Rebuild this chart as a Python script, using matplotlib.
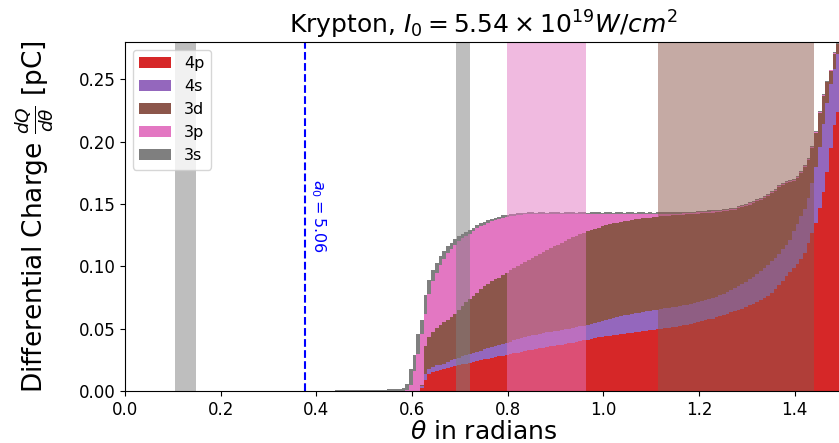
#!/usr/bin/env python3
"""
Angular distribution of ejected charge for krypton, split by shell (stacked histogram).
"""
import numpy as np
import matplotlib
matplotlib.use("Agg")
import matplotlib.pyplot as plt

OUTPUT_FILE = "out.png"

# histogram binning (radians)
THETA_MIN = 0.44
BIN_WIDTH = 0.0077

shell_labels = ["4p", "4s", "3d", "3p", "3s"]
shell_colors = ["tab:red", "tab:purple", "tab:brown", "tab:pink", "tab:gray"]

# charge per bin [pC]
q_4p = [0.0] * 23 + [
    0.002, 0.009, 0.0135, 0.015, 0.016, 0.017, 0.0177, 0.0185, 0.0192, 0.0199,
    0.0206, 0.0213, 0.022, 0.0227, 0.0234, 0.0241, 0.0248, 0.0254, 0.026, 0.0266,
    0.0272, 0.0278, 0.0284, 0.029, 0.0296, 0.0302, 0.0308, 0.0314, 0.032, 0.0327,
    0.0332, 0.0337, 0.0342, 0.0347, 0.0352, 0.0357, 0.0362, 0.0367, 0.0372, 0.0377,
    0.0382, 0.0388, 0.0394, 0.040, 0.0406, 0.0412, 0.0418, 0.0424, 0.043, 0.0434,
    0.0439, 0.0443, 0.0447, 0.0451, 0.0455, 0.0459, 0.0463, 0.0467, 0.0471, 0.0475,
    0.0479, 0.0483, 0.0487, 0.0491, 0.0495, 0.0499, 0.0503, 0.0507, 0.0511, 0.0515,
    0.052, 0.0526, 0.0532, 0.0538, 0.0545, 0.0552, 0.056, 0.0566, 0.0574, 0.058,
    0.059, 0.0598, 0.0606, 0.0618, 0.063, 0.064, 0.065, 0.066, 0.0675, 0.069,
    0.070, 0.0715, 0.0728, 0.0745, 0.0765, 0.079, 0.082, 0.085, 0.0885, 0.092,
    0.0955, 0.0985, 0.102, 0.106, 0.111, 0.1185, 0.127, 0.135, 0.147, 0.160,
    0.176, 0.195, 0.213, 0.2235, 0.245]

q_4s = [0.0] * 23 + [
    0.002, 0.005, 0.004, 0.004, 0.0045, 0.004, 0.0043, 0.0048, 0.0053, 0.0058,
    0.0062, 0.0065, 0.0068, 0.007, 0.0072, 0.0074, 0.0076, 0.0079, 0.0082, 0.0085,
    0.0088, 0.0091, 0.0094, 0.0097, 0.010, 0.0103, 0.0106, 0.0109, 0.0112, 0.0113,
    0.0115, 0.0116, 0.0117, 0.0118, 0.0118, 0.0118, 0.0118, 0.0118, 0.0118, 0.0118,
    0.0118, 0.0118, 0.0118, 0.0118, 0.0119, 0.012, 0.0122, 0.0124, 0.0126, 0.0129,
    0.0131, 0.0135, 0.0139, 0.0143, 0.0146, 0.0148, 0.015, 0.0151, 0.0152, 0.0153,
    0.0154, 0.0155, 0.0156, 0.0157, 0.0157, 0.0158, 0.0159, 0.016, 0.016, 0.016,
    0.016, 0.016, 0.016, 0.016, 0.0159, 0.0158, 0.0158, 0.0161, 0.0162, 0.0165,
    0.0165, 0.0169, 0.0174, 0.0177, 0.018, 0.0185, 0.019, 0.0197, 0.020, 0.0205,
    0.0215, 0.0222, 0.0232, 0.024, 0.0245, 0.025, 0.025, 0.025, 0.025, 0.025,
    0.0255, 0.0295, 0.032, 0.034, 0.0347, 0.0365, 0.040, 0.045, 0.049, 0.054,
    0.055, 0.051, 0.045, 0.0465, 0.035]

q_3d = [0.0] * 23 + [
    0.001, 0.022, 0.0255, 0.028, 0.030, 0.032, 0.033, 0.0337, 0.035, 0.0363,
    0.0382, 0.0402, 0.0427, 0.0443, 0.0459, 0.0475, 0.0491, 0.0507, 0.0518, 0.0529,
    0.0535, 0.0541, 0.0552, 0.0563, 0.0574, 0.0583, 0.0591, 0.0597, 0.0603, 0.061,
    0.0621, 0.0632, 0.0641, 0.065, 0.066, 0.067, 0.068, 0.069, 0.070, 0.071,
    0.072, 0.0727, 0.0734, 0.074, 0.0745, 0.0748, 0.075, 0.0752, 0.0754, 0.0757,
    0.0758, 0.0758, 0.0758, 0.0756, 0.0755, 0.0755, 0.0754, 0.0754, 0.0754, 0.0753,
    0.0752, 0.075, 0.0748, 0.0746, 0.0745, 0.0743, 0.0741, 0.0739, 0.0738, 0.0736,
    0.0733, 0.0729, 0.0725, 0.0721, 0.0717, 0.0713, 0.0707, 0.070, 0.0693, 0.0686,
    0.0679, 0.067, 0.066, 0.0649, 0.0638, 0.063, 0.0625, 0.0618, 0.061, 0.060,
    0.0593, 0.0583, 0.0575, 0.0565, 0.0558, 0.0548, 0.0538, 0.0535, 0.052, 0.050,
    0.047, 0.0408, 0.037, 0.035, 0.0338, 0.0305, 0.028, 0.0272, 0.0273, 0.0225,
    0.0165, 0.0105, 0.0125, 0.008, 0.0085]

q_3p = [0.0] * 19 + [
    0.001, 0.005, 0.016, 0.030,
    0.041, 0.026, 0.035, 0.041, 0.0445, 0.048, 0.051, 0.0535, 0.0545, 0.0555,
    0.0553, 0.0547, 0.053, 0.0523, 0.0515, 0.0515, 0.0505, 0.0495, 0.049, 0.048,
    0.0475, 0.047, 0.046, 0.0445, 0.043, 0.0417, 0.0405, 0.0395, 0.0381, 0.0366,
    0.0349, 0.0332, 0.0317, 0.0302, 0.0287, 0.0272, 0.0257, 0.0242, 0.0227, 0.0212,
    0.0197, 0.0184, 0.0171, 0.0159, 0.0147, 0.0137, 0.0127, 0.0117, 0.0107, 0.0097,
    0.0089, 0.0081, 0.0073, 0.0067, 0.0061, 0.0055, 0.005, 0.0045, 0.004, 0.0036,
    0.0032, 0.0029, 0.0026, 0.0023, 0.002, 0.0018, 0.0016, 0.0014, 0.0012, 0.0011,
    0.001, 0.0011, 0.001, 0.001, 0.0009, 0.001, 0.001, 0.0009, 0.001, 0.0009,
    0.0009, 0.0009, 0.0008, 0.0009, 0.0009, 0.0008, 0.0009, 0.0008, 0.0008, 0.0009,
    0.0008, 0.0008, 0.0007, 0.0008, 0.0008, 0.0007, 0.0008, 0.0007, 0.0008, 0.0007,
    0.0007, 0.0007, 0.0006, 0.0007, 0.0007, 0.0006, 0.0007, 0.0006, 0.0007, 0.0006,
    0.0006, 0.0006, 0.0005, 0.0006, 0.0006]

q_3s = [
    0.0005, 0.0006, 0.0006, 0.0007, 0.0007, 0.0008, 0.0008, 0.0008, 0.0009, 0.0009,
    0.001, 0.001, 0.0011, 0.0011, 0.0012, 0.0013, 0.0014,
    0.0016, 0.0023, 0.005, 0.0125, 0.013, 0.016,
    0.011, 0.015, 0.011, 0.009, 0.008, 0.007, 0.006, 0.0055, 0.005, 0.0045,
    0.0037, 0.0033, 0.003, 0.0028, 0.0027, 0.0026, 0.0025, 0.0024, 0.0022, 0.0021,
    0.002, 0.0019, 0.0018, 0.0017, 0.0016, 0.0015, 0.0016, 0.0014, 0.0015, 0.0016,
    0.0015, 0.0013, 0.0015, 0.0016, 0.0014, 0.0015, 0.0017, 0.0015, 0.0014, 0.0016,
    0.0015, 0.0015, 0.0013, 0.0016, 0.0015, 0.0014, 0.0016, 0.0015, 0.0015, 0.0014,
    0.0016, 0.0015, 0.0013, 0.0015, 0.0016, 0.0014, 0.0015, 0.0015, 0.0014, 0.0016,
    0.0015, 0.0014, 0.0015, 0.0013, 0.0015, 0.0014, 0.0013, 0.0014, 0.0013, 0.0012,
    0.0011, 0.001, 0.0011, 0.001, 0.0009, 0.001, 0.0009, 0.0009, 0.001, 0.0009,
    0.0009, 0.0008, 0.0009, 0.0008, 0.0009, 0.0008, 0.0008, 0.0009, 0.0008, 0.0008,
    0.0008, 0.0009, 0.0008, 0.0008, 0.0007, 0.0008, 0.0008, 0.0007, 0.0008, 0.0008,
    0.0007, 0.0008, 0.0007, 0.0008, 0.0007, 0.0007, 0.0008, 0.0007, 0.0007, 0.0008,
    0.0007, 0.0007, 0.0008, 0.0007, 0.0007]

# predicted scattering-angle windows per shell (start, end, colour)
window_starts = [0.105, 0.692, 0.798, 1.114]
window_ends = [0.149, 0.721, 0.963, 1.441]
window_colors = ["tab:gray", "tab:gray", "tab:pink", "tab:brown"]

# angle for a0 marker
a0_value = 5.06
a0_theta = 0.377


def main():
    fig = plt.figure(figsize=(8.39, 4.43), dpi=100)
    ax = fig.add_axes([0.149, 0.1174, 0.855, 0.788])

    weights = [q_4p, q_4s, q_3d, q_3p, q_3s]
    edges = THETA_MIN + BIN_WIDTH * np.arange(len(q_3s) + 1)
    centers = 0.5 * (edges[:-1] + edges[1:])

    _, _, patches = ax.hist([centers] * len(weights), bins=edges, weights=weights,
                            stacked=True, histtype="stepfilled",
                            color=shell_colors, label=shell_labels)

    # shaded angle windows on top of the histogram
    for start, end, color in zip(window_starts, window_ends, window_colors):
        ax.axvspan(start, end, color=color, alpha=0.5, lw=0)

    ax.axvline(a0_theta, color="blue", linestyle="--", lw=1.5)
    ax.text(a0_theta + 0.008, 0.17, rf"$a_0 = {a0_value:.2f}$", rotation=270,
            color="blue", fontsize=11.5, ha="left", va="top")

    ax.set_xlim(0, 1.5)
    ax.set_ylim(0, 0.28)
    ax.tick_params(labelsize=12)
    ax.set_title(r"Krypton, $I_0 = 5.54 \times 10^{19} W/cm^2$", fontsize=18)
    ax.set_xlabel(r"$\theta$ in radians", fontsize=18, labelpad=1)
    ax.set_ylabel(r"Differential Charge $\frac{dQ}{d\theta}$ [pC]", fontsize=19,
                  labelpad=16)

    handles = [p[0] for p in patches]
    ax.legend(handles, shell_labels, loc="upper left", fontsize=11.5)

    fig.savefig(OUTPUT_FILE, dpi=100)
    plt.close(fig)


if __name__ == "__main__":
    main()
